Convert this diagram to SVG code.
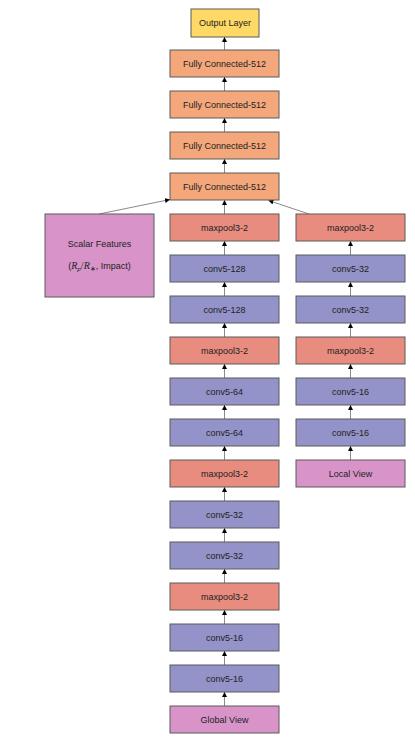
<svg xmlns="http://www.w3.org/2000/svg" width="415" height="743" viewBox="0 0 415 743">
<style>
.b{stroke:#5a5a5a;stroke-width:1}
.out{fill:#FFD966}
.fc{fill:#F4A77A}
.mp{fill:#E98C80}
.cv{fill:#9393C9}
.vw{fill:#D894C8}
text{font-family:"Liberation Sans",Arial,sans-serif;font-size:9px;fill:#222;text-anchor:middle}
.e{stroke:#8a8a8a;stroke-width:1;fill:none;marker-end:url(#ah)}
</style>
<defs>
<marker id="ah" viewBox="0 0 10 10" refX="10" refY="5" markerWidth="5" markerHeight="5" orient="auto" markerUnits="userSpaceOnUse">
<path d="M0,0 L10,5 L0,10 z" fill="#000"/>
</marker>
</defs>
<rect width="415" height="743" fill="#fff"/>
<g id="connectors">
<line class="e" x1="224.5" y1="50" x2="224.5" y2="37"/>
<line class="e" x1="224.5" y1="91" x2="224.5" y2="77"/>
<line class="e" x1="224.5" y1="132" x2="224.5" y2="118"/>
<line class="e" x1="224.5" y1="173" x2="224.5" y2="159"/>
<line class="e" x1="224.5" y1="214" x2="224.5" y2="200"/>
<line class="e" x1="224.5" y1="255" x2="224.5" y2="241"/>
<line class="e" x1="224.5" y1="296" x2="224.5" y2="282"/>
<line class="e" x1="224.5" y1="337" x2="224.5" y2="323"/>
<line class="e" x1="224.5" y1="378" x2="224.5" y2="364"/>
<line class="e" x1="224.5" y1="419" x2="224.5" y2="405"/>
<line class="e" x1="224.5" y1="460" x2="224.5" y2="446"/>
<line class="e" x1="224.5" y1="501" x2="224.5" y2="487"/>
<line class="e" x1="224.5" y1="542" x2="224.5" y2="528"/>
<line class="e" x1="224.5" y1="583" x2="224.5" y2="569"/>
<line class="e" x1="224.5" y1="624" x2="224.5" y2="610"/>
<line class="e" x1="224.5" y1="665" x2="224.5" y2="651"/>
<line class="e" x1="224.5" y1="706" x2="224.5" y2="692"/>
<line class="e" x1="350.5" y1="255" x2="350.5" y2="241"/>
<line class="e" x1="350.5" y1="296" x2="350.5" y2="282"/>
<line class="e" x1="350.5" y1="337" x2="350.5" y2="323"/>
<line class="e" x1="350.5" y1="378" x2="350.5" y2="364"/>
<line class="e" x1="350.5" y1="419" x2="350.5" y2="405"/>
<line class="e" x1="350.5" y1="460" x2="350.5" y2="446"/>
<line class="e" x1="99" y1="214" x2="170" y2="199.5"/>
<line class="e" x1="309" y1="214" x2="268.5" y2="200.5"/>
</g>
<g id="output"><rect class="b out" x="191" y="9" width="68" height="28"/><text x="225" y="26">Output Layer</text></g>
<g id="fc4"><rect class="b fc" x="170" y="50" width="109" height="27"/><text x="224.5" y="66.5">Fully Connected-512</text></g>
<g id="fc3"><rect class="b fc" x="170" y="91" width="109" height="27"/><text x="224.5" y="107.5">Fully Connected-512</text></g>
<g id="fc2"><rect class="b fc" x="170" y="132" width="109" height="27"/><text x="224.5" y="148.5">Fully Connected-512</text></g>
<g id="fc1"><rect class="b fc" x="170" y="173" width="109" height="27"/><text x="224.5" y="189.5">Fully Connected-512</text></g>
<g id="g_mp4"><rect class="b mp" x="170" y="214" width="109" height="27"/><text x="224.5" y="230.5">maxpool3-2</text></g>
<g id="g_c8"><rect class="b cv" x="170" y="255" width="109" height="27"/><text x="224.5" y="271.5">conv5-128</text></g>
<g id="g_c7"><rect class="b cv" x="170" y="296" width="109" height="27"/><text x="224.5" y="312.5">conv5-128</text></g>
<g id="g_mp3"><rect class="b mp" x="170" y="337" width="109" height="27"/><text x="224.5" y="353.5">maxpool3-2</text></g>
<g id="g_c6"><rect class="b cv" x="170" y="378" width="109" height="27"/><text x="224.5" y="394.5">conv5-64</text></g>
<g id="g_c5"><rect class="b cv" x="170" y="419" width="109" height="27"/><text x="224.5" y="435.5">conv5-64</text></g>
<g id="g_mp2"><rect class="b mp" x="170" y="460" width="109" height="27"/><text x="224.5" y="476.5">maxpool3-2</text></g>
<g id="g_c4"><rect class="b cv" x="170" y="501" width="109" height="27"/><text x="224.5" y="517.5">conv5-32</text></g>
<g id="g_c3"><rect class="b cv" x="170" y="542" width="109" height="27"/><text x="224.5" y="558.5">conv5-32</text></g>
<g id="g_mp1"><rect class="b mp" x="170" y="583" width="109" height="27"/><text x="224.5" y="599.5">maxpool3-2</text></g>
<g id="g_c2"><rect class="b cv" x="170" y="624" width="109" height="27"/><text x="224.5" y="640.5">conv5-16</text></g>
<g id="g_c1"><rect class="b cv" x="170" y="665" width="109" height="27"/><text x="224.5" y="681.5">conv5-16</text></g>
<g id="global"><rect class="b vw" x="170" y="706" width="109" height="27"/><text x="224.5" y="722.5">Global View</text></g>
<g id="l_mp2"><rect class="b mp" x="296" y="214" width="109" height="27"/><text x="350.5" y="230.5">maxpool3-2</text></g>
<g id="l_c4"><rect class="b cv" x="296" y="255" width="109" height="27"/><text x="350.5" y="271.5">conv5-32</text></g>
<g id="l_c3"><rect class="b cv" x="296" y="296" width="109" height="27"/><text x="350.5" y="312.5">conv5-32</text></g>
<g id="l_mp1"><rect class="b mp" x="296" y="337" width="109" height="27"/><text x="350.5" y="353.5">maxpool3-2</text></g>
<g id="l_c2"><rect class="b cv" x="296" y="378" width="109" height="27"/><text x="350.5" y="394.5">conv5-16</text></g>
<g id="l_c1"><rect class="b cv" x="296" y="419" width="109" height="27"/><text x="350.5" y="435.5">conv5-16</text></g>
<g id="local"><rect class="b vw" x="296" y="460" width="109" height="27"/><text x="350.5" y="476.5">Local View</text></g>
<g id="scalar"><rect class="b vw" x="45" y="214" width="109" height="83"/>
<text x="99.5" y="246.5">Scalar Features</text>
<text x="99.5" y="268.5">(<tspan font-family="Liberation Serif,serif" font-style="italic" font-size="10">R</tspan><tspan font-family="Liberation Serif,serif" font-style="italic" font-size="7" dy="2">p</tspan><tspan dy="-2" font-family="Liberation Serif,serif" font-size="10">/</tspan><tspan font-family="Liberation Serif,serif" font-style="italic" font-size="10">R</tspan><tspan font-size="7" dy="2">∗</tspan><tspan dy="-2">, Impact)</tspan></text>
</g>
</svg>
